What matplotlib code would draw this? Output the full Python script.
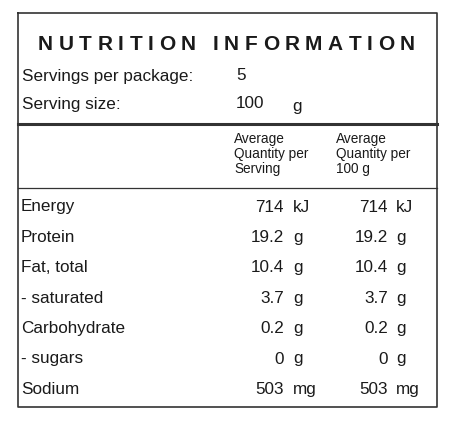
import matplotlib.pyplot as plt

plt.rcParams["font.family"] = ["Liberation Sans", "DejaVu Sans"]

title = "NUTRITION INFORMATION"
servings_per_package = "5"
serving_size = "100"
serving_unit = "g"
col_headers = ["Average\nQuantity per\nServing", "Average\nQuantity per\n100 g"]
nutrients = ["Energy", "Protein", "Fat, total", "- saturated", "Carbohydrate", "- sugars", "Sodium"]
per_serving = ["714", "19.2", "10.4", "3.7", "0.2", "0", "503"]
per_100g = ["714", "19.2", "10.4", "3.7", "0.2", "0", "503"]
units = ["kJ", "g", "g", "g", "g", "g", "mg"]

INK = "#1a1a1a"
FS = 12.3
fig = plt.figure(figsize=(4.58, 4.30), dpi=100)
ax = fig.add_axes([0, 0, 1, 1])
ax.set_xlim(0, 458)
ax.set_ylim(430, 0)
ax.axis("off")

# frame and rules
ax.plot([18, 437, 437, 18, 18], [13, 13, 407, 407, 13], color="#333", lw=1.2)
ax.plot([18, 437], [124, 124], color="#333", lw=2.2)
ax.plot([18, 437], [188, 188], color="#333", lw=0.9)

# letter-spaced title: measure glyphs, spread remaining width evenly
renderer = fig.canvas.get_renderer()
chars = [ax.text(0, 44, ch, ha="left", va="center", fontsize=15, fontweight="bold", color=INK)
         for ch in title]
widths = [t.get_window_extent(renderer).width for t in chars]
x0, x1 = 38, 415
gap = (x1 - x0 - sum(widths)) / (len(chars) - 1)
x = x0
for t, w in zip(chars, widths):
    t.set_x(x)
    x += w + gap

ax.text(22, 76, "Servings per package:", fontsize=FS, va="center", color=INK)
ax.text(236, 76, servings_per_package, fontsize=FS, va="center", color=INK)
ax.text(22, 104, "Serving size:", fontsize=FS, va="center", color=INK)
ax.text(236, 104, serving_size, fontsize=FS, va="center", color=INK)
ax.text(292, 106, serving_unit, fontsize=FS, va="center", color=INK)

for xh, h in zip([234, 336], col_headers):
    ax.text(xh, 154, h, fontsize=9.8, va="center", ha="left", color=INK, linespacing=1.1)

for i, name in enumerate(nutrients):
    y = 207 + i * 30.4
    ax.text(21, y, name, fontsize=FS, va="center", color=INK)
    ax.text(284, y, per_serving[i], fontsize=FS, va="center", ha="right", color=INK)
    ax.text(293, y, units[i], fontsize=FS, va="center", ha="left", color=INK)
    ax.text(388, y, per_100g[i], fontsize=FS, va="center", ha="right", color=INK)
    ax.text(396, y, units[i], fontsize=FS, va="center", ha="left", color=INK)

fig.savefig("out.png", dpi=100)
